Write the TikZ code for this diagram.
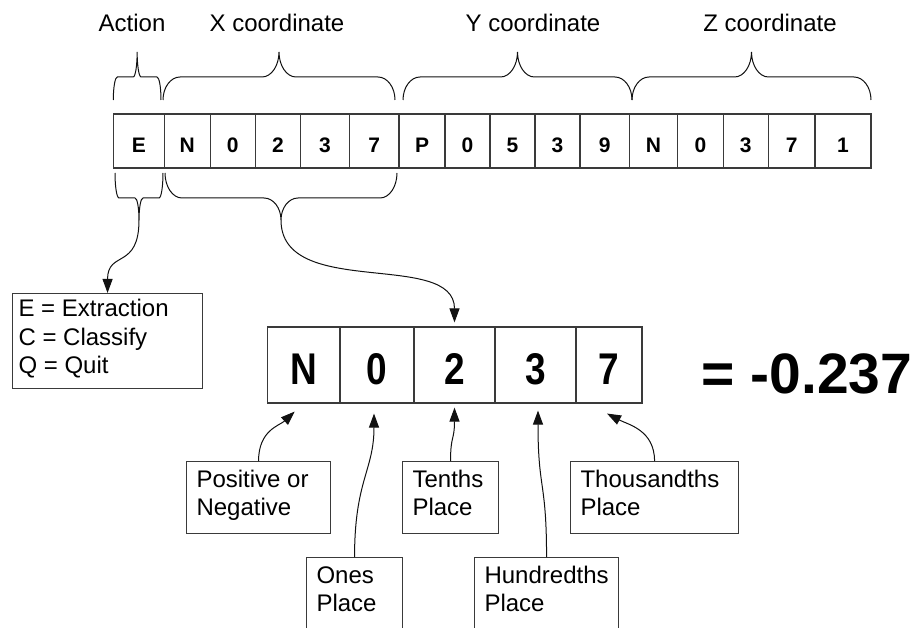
\documentclass[tikz,border=0pt]{standalone}
\usepackage{fontspec}
\setmainfont{Liberation Sans}
\usepackage{graphicx}
\usetikzlibrary{arrows.meta}
\definecolor{cLine}{HTML}{111111}
\definecolor{cBox}{HTML}{3A3A3A}
\tikzset{
  cell/.style={draw=cBox, line width=1.1pt, inner sep=0pt, minimum height=54pt,
               text height=23pt, text depth=0pt, font=\fontsize{21}{25}\selectfont\bfseries},
  bigcell/.style={draw=cBox, line width=1.1pt, inner sep=0pt, minimum height=76pt,
                  text height=38pt, text depth=0pt, font=\fontsize{37}{40}\selectfont\bfseries},
  ttl/.style={font=\fontsize{24}{28}\selectfont, inner sep=0pt},
  note/.style={draw=cBox, line width=1.1pt, anchor=north west, inner xsep=10pt,
               inner ysep=9pt, font=\fontsize{24}{28}\selectfont},
  brc/.style={draw=cLine, line width=1pt},
  ar/.style={-{Triangle[length=14pt,width=10pt]}, draw=cLine, line width=1pt},
}
% brace: x1, x2, end y, line y, tip y, corner, tip name
\newcommand{\cbrace}[7]{%
  \draw[brc] (#1,#3) .. controls (#1,{0.45*#3+0.55*#4}) and ({#1+0.45*#6},#4) .. ({#1+#6},#4)
    -- ({(#1+#2)/2-#6},#4) .. controls ({(#1+#2)/2-0.45*#6},#4) and ({(#1+#2)/2},{0.45*#5+0.55*#4}) .. ({(#1+#2)/2},#5) coordinate (#7)
    .. controls ({(#1+#2)/2},{0.45*#5+0.55*#4}) and ({(#1+#2)/2+0.45*#6},#4) .. ({(#1+#2)/2+#6},#4)
    -- ({#2-#6},#4) .. controls ({#2-0.45*#6},#4) and (#2,{0.45*#3+0.55*#4}) .. (#2,#3);}
\newcommand{\ntext}[2]{\parbox[c][54pt][t]{#1}{#2}}

\begin{document}
\begin{tikzpicture}[x=1pt,y=-1pt]
  \useasboundingbox (0,0) rectangle (918,628);

  % headings
  \node[ttl] (tAct) at (132,23) {Action};
  \node[ttl] (tX) at (277,23) {X coordinate};
  \node[ttl] (tY) at (533,23) {Y coordinate};
  \node[ttl] (tZ) at (770,23) {Z coordinate};

  % command string
  \node[cell, minimum width=51pt] (cE) at (138.8,141) {E};
  \node[cell, minimum width=45.7pt] (cX1) at (187.2,141) {N};
  \node[cell, minimum width=45.3pt] (cX2) at (232.7,141) {0};
  \node[cell, minimum width=45.4pt] (cX3) at (278,141) {2};
  \node[cell, minimum width=48.6pt] (cX4) at (325,141) {3};
  \node[cell, minimum width=49.7pt] (cX5) at (374.2,141) {7};
  \node[cell, minimum width=46pt] (cY1) at (422,141) {P};
  \node[cell, minimum width=45pt] (cY2) at (467.5,141) {0};
  \node[cell, minimum width=45pt] (cY3) at (512.5,141) {5};
  \node[cell, minimum width=45pt] (cY4) at (557.5,141) {3};
  \node[cell, minimum width=49.3pt] (cY5) at (604.7,141) {9};
  \node[cell, minimum width=48.4pt] (cZ1) at (653.5,141) {N};
  \node[cell, minimum width=45.6pt] (cZ2) at (700.5,141) {0};
  \node[cell, minimum width=45pt] (cZ3) at (745.8,141) {3};
  \node[cell, minimum width=46.7pt] (cZ4) at (791.7,141) {7};
  \node[cell, minimum width=56pt] (cZ5) at (843,141) {1};

  \cbrace{113.3}{161}{100}{77}{52}{4}{tActTip}
  \cbrace{163}{395}{100}{77}{52}{17}{tXTip}
  \cbrace{403}{632}{100}{77}{52}{17}{tYTip}
  \cbrace{632}{871}{100}{77}{52}{17}{tZTip}
  \cbrace{115}{163}{173}{198}{220}{4}{bActTip}
  \cbrace{165}{397}{173}{198}{220}{17}{bXTip}

  % X value, enlarged
  \node[bigcell, minimum width=72.5pt] (bN) at (303.7,365) {\scalebox{1}[1.2]{N}};
  \node[bigcell, minimum width=74pt] (b0) at (377,365) {\scalebox{1}[1.2]{0}};
  \node[bigcell, minimum width=81pt] (b2) at (454.5,365) {\scalebox{1}[1.2]{2}};
  \node[bigcell, minimum width=81pt] (b3) at (535.5,365) {\scalebox{1}[1.2]{3}};
  \node[bigcell, minimum width=66pt] (b7) at (609,365) {\scalebox{1}[1.2]{7}};
  \node[font=\fontsize{57}{60}\selectfont\bfseries, inner sep=0pt] (val) at (807,374) {= -0.237};

  % notes
  \node[note, inner xsep=6pt, inner ysep=6pt, font=\fontsize{24}{28.5}\selectfont] (lAct) at (12,293)
    {\parbox[c][83pt][t]{178pt}{E = Extraction\\C = Classify\\Q = Quit}};
  \node[note] (lSign) at (186,461) {\ntext{124pt}{Positive or\\Negative}};
  \node[note] (lOnes) at (306,557) {\ntext{76pt}{Ones\\Place}};
  \node[note] (lTenth) at (402,461) {\ntext{76pt}{Tenths\\Place}};
  \node[note] (lHund) at (474,557) {\ntext{124pt}{Hundredths\\Place}};
  \node[note] (lThou) at (570,461) {\ntext{148pt}{Thousandths\\Place}};

  \draw[ar] (bActTip) .. controls +(0,50) and +(0,-43) .. (lAct.north);
  \draw[ar] (bXTip) .. controls +(0,80) and +(0,-73) .. ([yshift=4pt]b2.north);
  \draw[ar] (lSign.north) .. controls +(0,-31) and +(-15,14) .. ([xshift=-9pt,yshift=-8pt]bN.south);
  \draw[ar] (lOnes.north) .. controls +(0,-77) and +(0,57) .. ([xshift=-3pt,yshift=-10pt]b0.south);
  \draw[ar] (lTenth.north) .. controls +(0,-26) and +(0,33) .. ([yshift=-4pt]b2.south);
  \draw[ar] (lHund.north) .. controls +(0,-77) and +(0,80) .. ([xshift=2.5pt,yshift=-7pt]b3.south);
  \draw[ar] (lThou.north) .. controls +(0,-31) and +(21,11) .. ([xshift=-2pt,yshift=-10pt]b7.south);
\end{tikzpicture}
\end{document}
